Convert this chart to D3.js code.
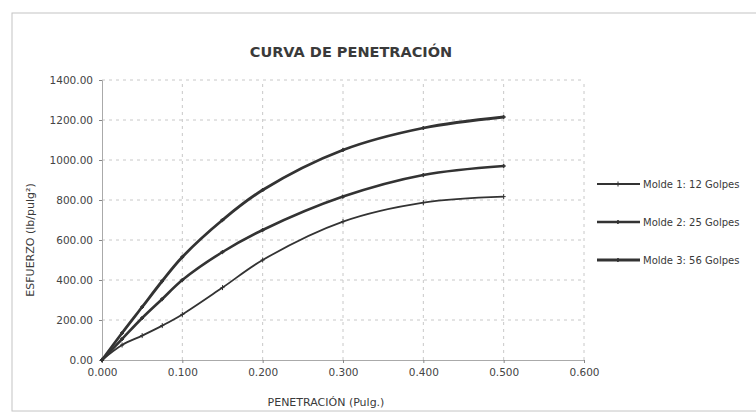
<!DOCTYPE html>
<html><head><meta charset="utf-8">
<script src="https://cdn.jsdelivr.net/npm/d3@7"></script>
<style>body{margin:0;background:#fff}svg{display:block}text{font-family:"DejaVu Sans",sans-serif;fill:#3a3a3a}</style>
</head><body><svg id="c" width="756" height="415"></svg>
<script>
const penetration = [0, 0.025, 0.05, 0.075, 0.1, 0.15, 0.2, 0.3, 0.4, 0.5];
const molde1 = [0, 75, 122, 172, 228, 362, 500, 692, 787, 817];
const molde2 = [0, 105, 210, 305, 400, 540, 650, 817, 925, 970];
const molde3 = [0, 135, 265, 395, 515, 700, 850, 1050, 1160, 1215];
const seriesNames = ["Molde 1: 12 Golpes", "Molde 2: 25 Golpes", "Molde 3: 56 Golpes"];
const xTicks = [0, 0.1, 0.2, 0.3, 0.4, 0.5, 0.6];
const yTicks = [0, 200, 400, 600, 800, 1000, 1200, 1400];

const svg = d3.select("#c");
const x = d3.scaleLinear().domain([0, 0.6]).range([102, 584]);
const y = d3.scaleLinear().domain([0, 1400]).range([360, 80]);

// outer border
svg.append("rect").attr("x", 12).attr("y", 13).attr("width", 750).attr("height", 398)
  .attr("fill", "none").attr("stroke", "#c4c4c4").attr("stroke-width", 1);

// gridlines
svg.append("g").selectAll("line").data(yTicks.slice(1)).join("line")
  .attr("x1", x(0)).attr("x2", x(0.6)).attr("y1", d => y(d)).attr("y2", d => y(d))
  .attr("stroke", "#c8c8c8").attr("stroke-dasharray", "3,4").attr("stroke-width", 1);
svg.append("g").selectAll("line").data(xTicks.slice(1)).join("line")
  .attr("y1", y(0)).attr("y2", y(1400)).attr("x1", d => x(d)).attr("x2", d => x(d))
  .attr("stroke", "#c8c8c8").attr("stroke-dasharray", "3,4").attr("stroke-width", 1);

// axes
const yAxis = d3.axisLeft(y).tickValues(yTicks).tickFormat(d3.format(".2f")).tickSize(3).tickPadding(6);
const gy = svg.append("g").attr("transform", `translate(${x(0)},0)`).call(yAxis);
const xAxis = d3.axisBottom(x).tickValues(xTicks).tickFormat(d3.format(".3f")).tickSize(3).tickPadding(6);
const gx = svg.append("g").attr("transform", `translate(0,${y(0)})`).call(xAxis);
[gx, gy].forEach(g => {
  g.select(".domain").attr("stroke", "#aaa");
  g.selectAll(".tick line").attr("stroke", "#888");
  g.selectAll("text").attr("font-family", "DejaVu Sans").style("font-size", "10.5px").style("fill", "#444");
});

// title & axis labels
svg.append("text").attr("x", 351).attr("y", 57).attr("text-anchor", "middle")
  .style("font-size", "14.5px").style("font-weight", "bold").text("CURVA DE PENETRACIÓN");
svg.append("text").attr("x", 326).attr("y", 406).attr("text-anchor", "middle")
  .style("font-size", "11px").text("PENETRACIÓN (Pulg.)");
svg.append("text").attr("transform", "translate(34,240) rotate(-90)").attr("text-anchor", "middle")
  .style("font-size", "11px").style("fill", "#3a3a3a").text("ESFUERZO (lb/pulg²)");

// series
const series = [molde1, molde2, molde3];
const widths = [1.8, 2.6, 2.8];
const line = d3.line().x(d => x(d[0])).y(d => y(d[1])).curve(d3.curveCatmullRom.alpha(0.5));
series.forEach((vals, i) => {
  const pts = penetration.map((p, j) => [p, vals[j]]);
  svg.append("path").datum(pts).attr("d", line).attr("fill", "none")
    .attr("stroke", "#333").attr("stroke-width", widths[i]);
  svg.append("g").selectAll("path").data(pts).join("path")
    .attr("transform", d => `translate(${x(d[0])},${y(d[1])})`)
    .attr("d", i === 0 ? "M-2,0H2M0,-2.5V2.5" : "M-1.8,0L0,-1.8L1.8,0L0,1.8Z")
    .attr("stroke", "#333").attr("stroke-width", 1).attr("fill", "#333");
});

// legend
const legY = [184, 222, 260];
seriesNames.forEach((name, i) => {
  svg.append("line").attr("x1", 597).attr("x2", 640).attr("y1", legY[i]).attr("y2", legY[i])
    .attr("stroke", "#333").attr("stroke-width", widths[i]);
  svg.append("path").attr("transform", `translate(618,${legY[i]})`)
    .attr("d", i === 0 ? "M-2,0H2M0,-2.5V2.5" : "M-1.8,0L0,-1.8L1.8,0L0,1.8Z")
    .attr("stroke", "#333").attr("fill", "#333");
  svg.append("text").attr("x", 643).attr("y", legY[i] + 4).style("font-size", "10px").text(name);
});
</script></body></html>
